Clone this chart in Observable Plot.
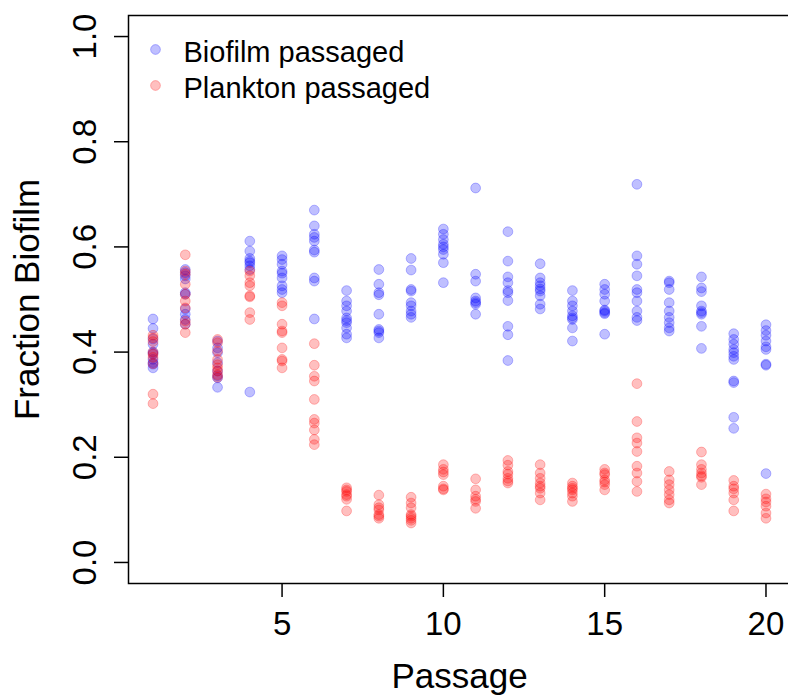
<!DOCTYPE html>
<html>
<head>
<meta charset="utf-8">
<script src="https://cdn.jsdelivr.net/npm/d3@7"></script>
<script src="https://cdn.jsdelivr.net/npm/@observablehq/plot@0.6"></script>
<style>
  html, body { margin: 0; padding: 0; background: #fff; overflow: hidden; }
  #chart { width: 788px; height: 696px; overflow: hidden; }
</style>
</head>
<body>
<div id="chart"></div>
<script>
// Passage numbers (x axis)
const passages = [1, 2, 3, 4, 5, 6, 7, 8, 9, 10, 11, 12, 13, 14, 15, 16, 17, 18, 19, 20];

// Fraction in biofilm for replicate populations, biofilm-passaged lines
const biofilmValues = [
  [0.463, 0.445, 0.425, 0.415, 0.400, 0.397, 0.386, 0.380, 0.377, 0.370],
  [0.557, 0.551, 0.545, 0.539, 0.513, 0.510, 0.482, 0.472, 0.462, 0.453],
  [0.421, 0.408, 0.399, 0.380, 0.364, 0.355, 0.351, 0.333],
  [0.611, 0.592, 0.578, 0.573, 0.570, 0.564, 0.557, 0.324],
  [0.583, 0.576, 0.567, 0.554, 0.550, 0.541, 0.526, 0.519, 0.513],
  [0.670, 0.640, 0.624, 0.618, 0.611, 0.594, 0.590, 0.541, 0.535, 0.463],
  [0.517, 0.497, 0.488, 0.478, 0.465, 0.460, 0.456, 0.446, 0.434, 0.427],
  [0.557, 0.529, 0.513, 0.509, 0.472, 0.443, 0.440, 0.437, 0.427],
  [0.578, 0.556, 0.519, 0.516, 0.494, 0.488, 0.478, 0.472, 0.466],
  [0.634, 0.624, 0.614, 0.605, 0.600, 0.595, 0.586, 0.570, 0.532],
  [0.712, 0.548, 0.535, 0.503, 0.497, 0.494, 0.491, 0.472],
  [0.629, 0.573, 0.543, 0.532, 0.517, 0.513, 0.498, 0.449, 0.433, 0.384],
  [0.568, 0.541, 0.532, 0.526, 0.520, 0.516, 0.507, 0.491, 0.482],
  [0.517, 0.497, 0.488, 0.478, 0.469, 0.465, 0.462, 0.446, 0.421],
  [0.529, 0.519, 0.510, 0.497, 0.480, 0.478, 0.475, 0.473, 0.434],
  [0.719, 0.583, 0.567, 0.545, 0.519, 0.513, 0.497, 0.478, 0.466, 0.460],
  [0.535, 0.532, 0.519, 0.494, 0.478, 0.466, 0.456, 0.446, 0.440],
  [0.543, 0.522, 0.515, 0.488, 0.478, 0.475, 0.472, 0.449, 0.407],
  [0.435, 0.424, 0.415, 0.405, 0.399, 0.392, 0.386, 0.345, 0.342, 0.276, 0.255],
  [0.452, 0.441, 0.432, 0.421, 0.410, 0.405, 0.377, 0.375, 0.169]
];

// Fraction in biofilm for replicate populations, plankton-passaged lines
const planktonValues = [
  [0.432, 0.427, 0.420, 0.400, 0.396, 0.390, 0.378, 0.320, 0.302],
  [0.585, 0.554, 0.548, 0.529, 0.510, 0.497, 0.484, 0.459, 0.453, 0.437],
  [0.424, 0.418, 0.402, 0.386, 0.376, 0.370, 0.364, 0.357, 0.352],
  [0.554, 0.545, 0.532, 0.526, 0.507, 0.505, 0.475, 0.462],
  [0.494, 0.488, 0.453, 0.440, 0.437, 0.408, 0.386, 0.383, 0.370],
  [0.416, 0.375, 0.354, 0.345, 0.310, 0.272, 0.265, 0.252, 0.234, 0.224],
  [0.142, 0.138, 0.135, 0.129, 0.126, 0.120, 0.098],
  [0.128, 0.110, 0.104, 0.100, 0.091, 0.088, 0.084],
  [0.124, 0.113, 0.104, 0.091, 0.088, 0.084, 0.080, 0.075],
  [0.186, 0.177, 0.172, 0.167, 0.145, 0.140, 0.138],
  [0.159, 0.138, 0.126, 0.120, 0.116, 0.103],
  [0.194, 0.185, 0.173, 0.168, 0.160, 0.155, 0.151],
  [0.186, 0.170, 0.160, 0.151, 0.145, 0.141, 0.132, 0.119],
  [0.151, 0.145, 0.141, 0.138, 0.132, 0.126, 0.116],
  [0.177, 0.170, 0.167, 0.157, 0.153, 0.148, 0.138],
  [0.340, 0.268, 0.237, 0.227, 0.211, 0.183, 0.170, 0.154, 0.135],
  [0.173, 0.157, 0.148, 0.138, 0.129, 0.119, 0.113],
  [0.210, 0.186, 0.177, 0.170, 0.165, 0.162, 0.148],
  [0.156, 0.145, 0.140, 0.132, 0.119, 0.098],
  [0.130, 0.121, 0.115, 0.107, 0.094, 0.084]
];

// Axis ticks and legend entries
const xTicks = [5, 10, 15, 20];
const yTicks = [0, 0.2, 0.4, 0.6, 0.8, 1.0];
const seriesNames = ["Biofilm passaged", "Plankton passaged"];
const seriesColors = ["blue", "red"];

// Long-format rows for the dot marks
function toRows(values, series) {
  return passages.flatMap((p, i) => values[i].map(v => ({passage: p, value: v, series})));
}
const rows = [
  ...toRows(biofilmValues, seriesNames[0]),
  ...toRows(planktonValues, seriesNames[1])
];

const font = "'Liberation Sans', Arial, sans-serif";

const dotStyle = color => ({
  r: 4.9,
  fill: color,
  fillOpacity: 0.25,
  stroke: color,
  strokeOpacity: 0.25,
  strokeWidth: 1
});

const legendMarks = seriesNames.flatMap((name, i) => [
  Plot.dot([name], {frameAnchor: "top-left", dx: 27, dy: 34 + 36 * i, ...dotStyle(seriesColors[i])}),
  Plot.text([name], {
    frameAnchor: "top-left", dx: 55, dy: 37 + 36 * i,
    text: d => d, textAnchor: "start", lineAnchor: "middle",
    fontSize: 29, fill: "black"
  })
]);

const chart = Plot.plot({
  width: 788,
  height: 696,
  marginLeft: 128,
  marginRight: -2,
  marginTop: 15,
  marginBottom: 113,
  style: {fontFamily: font, background: "white", color: "black", overflow: "hidden"},
  x: {domain: [0.24, 20.76]},
  y: {domain: [-0.04, 1.04]},
  marks: [
    Plot.frame({stroke: "black", strokeWidth: 1.5}),
    Plot.axisX({
      ticks: xTicks, tickSize: 14, tickPadding: 14, fontSize: 33,
      strokeWidth: 1.5, label: null, tickFormat: d => String(d)
    }),
    Plot.axisY({
      ticks: yTicks, tickSize: 14, strokeWidth: 1.5, label: null, tickFormat: () => ""
    }),
    // Rotated y tick labels
    Plot.text(yTicks, {
      y: d => d, frameAnchor: "left", dx: -33, rotate: -90,
      text: d => d.toFixed(1), textAnchor: "middle", lineAnchor: "bottom",
      fontSize: 33, fill: "black"
    }),
    // Axis titles
    Plot.text(["Passage"], {
      frameAnchor: "bottom", dy: 104, text: d => d,
      textAnchor: "middle", lineAnchor: "bottom", fontSize: 35, fill: "black"
    }),
    Plot.text(["Fraction Biofilm"], {
      frameAnchor: "left", dx: -90, rotate: -90, text: d => d,
      textAnchor: "middle", lineAnchor: "bottom", fontSize: 35, fill: "black"
    }),
    // Replicate measurements
    Plot.dot(rows.filter(d => d.series === seriesNames[0]), {x: "passage", y: "value", ...dotStyle(seriesColors[0])}),
    Plot.dot(rows.filter(d => d.series === seriesNames[1]), {x: "passage", y: "value", ...dotStyle(seriesColors[1])}),
    ...legendMarks
  ]
});

document.getElementById("chart").appendChild(chart);
</script>
</body>
</html>
